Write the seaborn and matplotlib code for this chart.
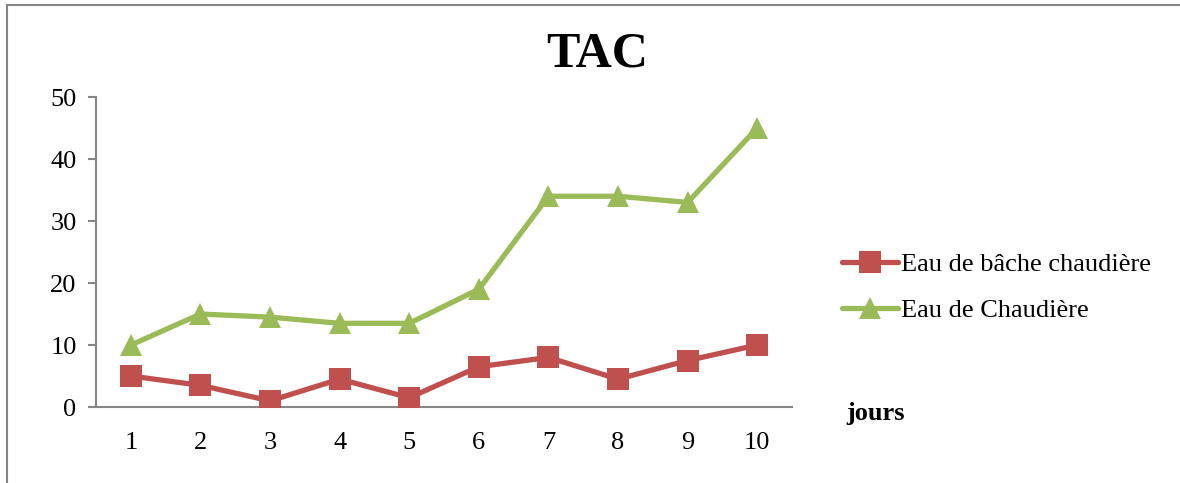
import matplotlib
matplotlib.use("Agg")
import matplotlib.pyplot as plt
import seaborn as sns
import pandas as pd
from matplotlib.patches import Rectangle

# TAC measurements over ten days
jours = [1, 2, 3, 4, 5, 6, 7, 8, 9, 10]
bache = [5, 3.5, 1, 4.5, 1.5, 6.5, 8, 4.5, 7.5, 10]
chaudiere = [10, 15, 14.5, 13.5, 13.5, 19, 34, 34, 33, 45]
series_names = ["Eau de bâche chaudière", "Eau de Chaudière"]
y_ticks = [0, 10, 20, 30, 40, 50]

sns.set_theme(style="white")
plt.rcParams["font.family"] = ["Liberation Serif", "DejaVu Serif"]

fig = plt.figure(figsize=(11.8, 4.83), dpi=100)
ax = fig.add_axes([0.0814, 0.1573, 0.5898, 0.6418])

df = pd.DataFrame({
    "jour": jours * 2,
    "valeur": bache + chaudiere,
    "serie": [series_names[0]] * len(jours) + [series_names[1]] * len(jours),
})

palette = {series_names[0]: "#C0504D", series_names[1]: "#9BBB59"}
markers = {series_names[0]: "s", series_names[1]: "^"}

sns.lineplot(data=df, x="jour", y="valeur", hue="serie", style="serie",
             palette=palette, markers=markers, dashes=False,
             linewidth=3.8, markersize=15.5, markeredgewidth=0, ax=ax)

ax.set_xlim(0.5, 10.5)
ax.set_ylim(0, 50)
ax.set_xticks(jours)
ax.set_xticklabels([str(j) for j in jours])
ax.set_yticks(y_ticks)
ax.set_xlabel("")
ax.set_ylabel("")

for s in ["top", "right"]:
    ax.spines[s].set_visible(False)
for s in ["left", "bottom"]:
    ax.spines[s].set_color("#868686")
    ax.spines[s].set_linewidth(1.5)
ax.spines["left"].set_zorder(0)
ax.spines["bottom"].set_zorder(0)

ax.tick_params(axis="y", which="major", direction="out", length=6, width=1.5,
               color="#868686", labelsize=19, pad=8, left=True)
ax.tick_params(axis="x", which="major", length=0, labelsize=19, pad=18)
for lab in ax.get_xticklabels() + ax.get_yticklabels():
    lab.set_color("black")

fig.text(0.506, 0.887, "TAC", ha="center", va="center", fontsize=36,
         fontweight="bold", color="black")
fig.text(0.7175, 0.143, "jours", ha="left", va="center", fontsize=19,
         fontweight="bold", color="black")

leg = ax.legend(loc="center left", bbox_to_anchor=(0.705, 0.405),
                bbox_transform=fig.transFigure, frameon=False,
                fontsize=19, handlelength=2.1, handletextpad=0.1,
                labelspacing=0.85, borderaxespad=0)
for txt in leg.get_texts():
    txt.set_color("black")

# outer chart frame
fig.patches.append(Rectangle((7 / 1180, -0.1), 1.2, 1 - 4.5 / 483 + 0.1,
                             transform=fig.transFigure, fill=False,
                             edgecolor="#868686", linewidth=1.5))

fig.savefig("out.png", dpi=100, facecolor="white")
